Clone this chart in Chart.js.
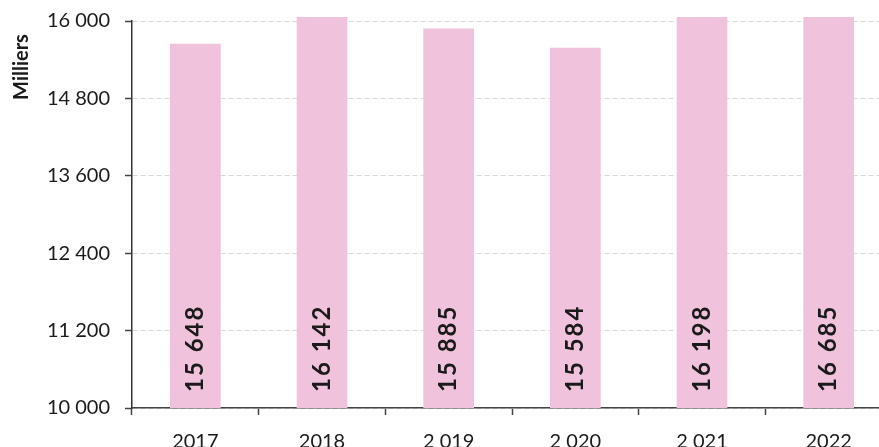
<!DOCTYPE html>
<html>
<head>
<meta charset="utf-8">
<script src="https://cdn.jsdelivr.net/npm/chart.js@4"></script>
<style>
  html, body { margin: 0; padding: 0; background: #fff; overflow: hidden; }
  #wrap { width: 892px; height: 447px; }
</style>
</head>
<body>
<div id="wrap"><canvas id="barChart" width="892" height="447"></canvas></div>
<script>
const years  = ['2017', '2018', '2 019', '2 020', '2 021', '2022'];
const values = [15648, 16142, 15885, 15584, 16198, 16685];
const yMin = 10000;
const yMax = 16000;
const yStep = 1200;

const FONT = 'Lato';
const fmt = v => String(v).replace(/\B(?=(\d{3})+(?!\d))/g, ' ');

// value written vertically, starting near the foot of each bar
const barLabels = {
  id: 'barLabels',
  afterDraw(chart) {
    const ctx = chart.ctx;
    const yScale = chart.scales.y;
    const meta = chart.getDatasetMeta(0);
    const base = yScale.getPixelForValue(yMin);
    ctx.save();
    ctx.fillStyle = '#1a1a1a';
    ctx.font = 'bold 24px ' + FONT;
    ctx.textAlign = 'left';
    ctx.textBaseline = 'middle';
    meta.data.forEach((bar, i) => {
      ctx.save();
      ctx.translate(bar.x, base - 16);
      ctx.rotate(-Math.PI / 2);
      // spread the digits a little
      let x = 0;
      for (const ch of fmt(values[i])) {
        ctx.fillText(ch, x, 0);
        x += ctx.measureText(ch).width + 2;
      }
      ctx.restore();
    });
    ctx.restore();
  },
};

// display-unit caption placed at the top of the value axis
const unitLabel = {
  id: 'unitLabel',
  afterDraw(chart) {
    const { ctx } = chart;
    ctx.save();
    ctx.fillStyle = '#1a1a1a';
    ctx.font = `bold 20px ${FONT}`;
    ctx.textAlign = 'center';
    ctx.textBaseline = 'middle';
    ctx.translate(22, 67);
    ctx.rotate(-Math.PI / 2);
    ctx.fillText('Milliers', 0, 0);
    ctx.restore();
  },
};

new Chart(document.getElementById('barChart'), {
  type: 'bar',
  data: {
    labels: years,
    datasets: [{
      data: values,
      backgroundColor: '#f0c2dc',
      borderWidth: 0,
      barPercentage: 0.4,
      categoryPercentage: 1,
      clip: { left: 0, top: 4, right: 0, bottom: 0 },
    }],
  },
  options: {
    responsive: false,
    animation: false,
    layout: { padding: { top: 21, right: 0, bottom: 0, left: 0 } },
    plugins: {
      legend: { display: false },
      tooltip: { enabled: false },
    },
    scales: {
      x: {
        grid: {
          offset: true,
          drawOnChartArea: false,
          tickLength: 7,
          tickColor: '#444',
          tickWidth: 1.5,
        },
        border: { color: '#444', width: 1.5 },
        ticks: {
          color: '#1a1a1a',
          font: { size: 20, family: FONT },
          padding: 15,
          maxRotation: 0,
        },
        afterFit: s => {
          s.height = 39;
          s.paddingLeft = 0;
          s.paddingRight = 0;
        },
      },
      y: {
        min: yMin,
        max: yMax,
        grid: {
          color: '#d9d9d9',
          lineWidth: 1,
          tickLength: 7,
          tickColor: '#444',
          tickWidth: 1.5,
        },
        border: { color: '#333', width: 1.5, dash: [5, 3] },
        ticks: {
          stepSize: yStep,
          color: '#1a1a1a',
          font: { size: 20, family: FONT },
          padding: 15,
          callback: v => fmt(v),
        },
        afterFit: s => {
          s.width = 132;
          s.paddingTop = 0;
          s.paddingBottom = 0;
        },
      },
    },
  },
  plugins: [barLabels, unitLabel],
});
</script>
</body>
</html>
